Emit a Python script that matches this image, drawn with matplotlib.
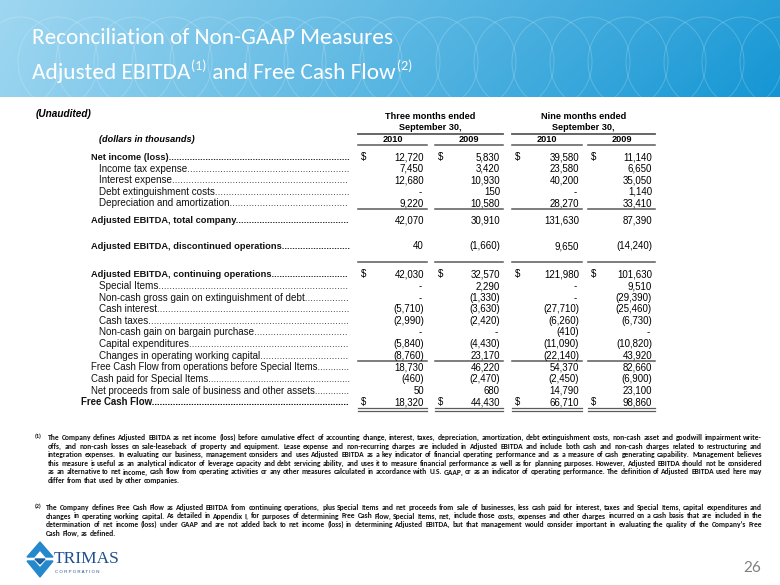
import matplotlib
matplotlib.use("Agg")
import matplotlib.pyplot as plt
import numpy as np
from matplotlib import font_manager as fm
from matplotlib.font_manager import FontProperties
from matplotlib.patches import Ellipse, Polygon
from matplotlib.transforms import Bbox

# ---------------- data ----------------
title_line1 = "Reconciliation of Non-GAAP Measures"
title_line2 = ["Adjusted EBITDA", "(1)", " and Free Cash Flow", "(2)"]

unaudited = "(Unaudited)"
units_label = "(dollars in thousands)"
group_headers = [("Three months ended", "September 30,"), ("Nine months ended", "September 30,")]
year_labels = ["2010", "2009", "2010", "2009"]

row_labels = [
    "Net income (loss)",
    "Income tax expense",
    "Interest expense",
    "Debt extinguishment costs",
    "Depreciation and amortization",
    "Adjusted EBITDA, total company",
    "Adjusted EBITDA, discontinued operations",
    "Adjusted EBITDA, continuing operations",
    "Special Items",
    "Non-cash gross gain on extinguishment of debt",
    "Cash interest",
    "Cash taxes",
    "Non-cash gain on bargain purchase",
    "Capital expenditures",
    "Changes in operating working capital",
    "Free Cash Flow from operations before Special Items",
    "Cash paid for Special Items",
    "Net proceeds from sale of business and other assets",
    "Free Cash Flow",
]
q3_2010 = [12720, 7450, 12680, None, 9220, 42070, 40, 42030, None, None,
           -5710, -2990, None, -5840, -8760, 18730, -460, 50, 18320]
q3_2009 = [5830, 3420, 10930, 150, 10580, 30910, -1660, 32570, 2290, -1330,
           -3630, -2420, None, -4430, 23170, 46220, -2470, 680, 44430]
ytd_2010 = [39580, 23580, 40200, None, 28270, 131630, 9650, 121980, None, None,
            -27710, -6260, -410, -11090, -22140, 54370, -2450, 14790, 66710]
ytd_2009 = [11140, 6650, 35050, 1140, 33410, 87390, -14240, 101630, 9510, -29390,
            -25460, -6730, None, -10820, 43920, 82660, -6900, 23100, 98860]
columns = [q3_2010, q3_2009, ytd_2010, ytd_2009]

row_kind = ["bold", "ind", "ind", "ind", "ind", "bold", "bold", "bold", "ind", "ind",
            "ind", "ind", "ind", "ind", "ind", "fcf", "fcf", "fcf", "total"]
dollar_rows = [0, 7, 18]

footnote1 = [
    "The Company defines Adjusted EBITDA as net income (loss) before cumulative effect of accounting change, interest, taxes, depreciation, amortization, debt extinguishment costs, non-cash asset and goodwill impairment write-",
    "offs, and non-cash losses on sale-leaseback of property and equipment.  Lease expense and non-recurring charges are included in Adjusted EBITDA and include both cash and non-cash charges related to restructuring and",
    "integration expenses. In evaluating our business, management considers and uses Adjusted EBITDA as a key indicator of financial operating performance and as a measure of cash generating capability.  Management believes",
    "this measure is useful as an analytical indicator of leverage capacity and debt servicing ability, and uses it to measure financial performance as well as for planning purposes. However, Adjusted EBITDA should not be considered",
    "as an alternative to net income, cash flow from operating activities or any other measures calculated in accordance with U.S. GAAP, or as an indicator of operating performance. The definition of Adjusted EBITDA used here may",
    "differ from that used by other companies.",
]
footnote2 = [
    "The Company defines Free Cash Flow as Adjusted EBITDA from continuing operations, plus Special Items and net proceeds from sale of businesses, less cash paid for interest, taxes and Special Items, capital expenditures and",
    "changes in operating working capital. As detailed in Appendix I, for purposes of determining Free Cash Flow, Special Items, net, include those costs, expenses and other charges incurred on a cash basis that are included in the",
    "determination of net income (loss) under GAAP and are not added back to net income (loss) in determining Adjusted EBITDA, but that management would consider important in evaluating the quality of the Company\u2019s Free",
    "Cash Flow, as defined.",
]
page_number = "26"

# ---------------- layout ----------------
W, H = 780, 585
fig = plt.figure(figsize=(7.8, 5.85), dpi=100)
ax = fig.add_axes([0, 0, 1, 1])
ax.set_xlim(0, W)
ax.set_ylim(H, 0)
ax.axis("off")
renderer = fig.canvas.get_renderer()

ttf = fm.fontManager.ttflist
names = {f.name for f in ttf}
def first_font(cands):
    for c in cands:
        if c in names:
            return c
    return None
narrow = first_font(["Carlito", "Liberation Sans Narrow", "Roboto Condensed", "Open Sans Condensed"])

def tw(s, fp):
    w, h, d = renderer.get_text_width_height_descent(s, fp, ismath=False)
    return w

# header band
band_h = 97
gx = np.linspace(0, 1, 300)
gy = np.linspace(0, 1, 40)[:, None]
c_left = np.array([150, 211, 239]) / 255
c_right = np.array([20, 150, 212]) / 255
img = c_left[None, None, :] * (1 - gx[None, :, None]) + c_right[None, None, :] * gx[None, :, None]
img = img * (1 - 0.08 * (1 - gy[:, :, None])) + 0.08 * (1 - gy[:, :, None])
ax.imshow(np.clip(img, 0, 1), extent=[0, W, band_h, 0], aspect="auto", zorder=0)
clipbox = ax.transData.transform_bbox(Bbox([[0, 0], [W, band_h]]))
for cx in np.arange(20, 800, 38):
    e = Ellipse((cx, 62), 80, 90, fill=False, ec="white", lw=0.7, alpha=0.2, zorder=1)
    ax.add_patch(e)
    e.set_clip_box(clipbox)

# title: size chosen so the first line spans the reference width
tfam = narrow if narrow else "Lato"
tfp = FontProperties(family=tfam, size=16)
tsize = min(20.5, 16 * 362 / tw(title_line1, tfp))
tfp.set_size(tsize)
tfp_sup = FontProperties(family=tfam, size=tsize * 0.6)
ax.text(32, 44, title_line1, fontproperties=tfp, color="white", va="baseline", zorder=3)
x = 32
for i, part in enumerate(title_line2):
    if i % 2 == 0:
        ax.text(x, 79, part, fontproperties=tfp, color="white", va="baseline", zorder=3)
        x += tw(part, tfp)
    else:
        ax.text(x + 1, 70, part, fontproperties=tfp_sup, color="white", va="baseline", zorder=3)
        x += tw(part, tfp_sup) + 1

# table
fam = "Liberation Sans"
fp_reg = FontProperties(family=fam, size=7.1)
fp_num = FontProperties(family=fam, size=7.0)
fp_bold = FontProperties(family=fam, size=6.7, weight="bold")
fp_hdr = FontProperties(family=fam, size=6.6, weight="bold")
fp_fcf = FontProperties(family=fam, size=6.9)
fp_fcfb = FontProperties(family=fam, size=6.9, weight="bold")
fp_bi = FontProperties(family=fam, size=6.6, weight="bold", style="italic")

ax.text(36, 117, unaudited, fontproperties=FontProperties(family=fam, size=7.2, weight="bold", style="italic"),
        va="baseline", ha="left")
ax.text(99, 142, units_label, fontproperties=fp_bi, va="baseline", ha="left")

col_left = [358, 435, 512, 588]
col_right = [427, 503, 582, 655]
groups = [(0, 1), (2, 3)]
line_col = "#5a5a5a"
for (a, b), (h1, h2) in zip(groups, group_headers):
    cx = (col_left[a] + col_right[b]) / 2
    ax.text(cx, 119, h1, fontproperties=fp_hdr, ha="center", va="baseline")
    ax.text(cx, 130, h2, fontproperties=fp_hdr, ha="center", va="baseline")
    ax.plot([col_left[a], col_right[b]], [133.5, 133.5], color=line_col, lw=1.3)
for j, yl in enumerate(year_labels):
    ax.text((col_left[j] + col_right[j]) / 2, 142, yl, fontproperties=fp_hdr, ha="center", va="baseline")
    for yy in (145, 209, 262, 361):
        ax.plot([col_left[j], col_right[j]], [yy, yy], color=line_col, lw=1.1)
    for yy in (408, 410.5):
        ax.plot([col_left[j], col_right[j]], [yy, yy], color=line_col, lw=0.9)

row_y = [157, 168.5, 180, 191.5, 203, 220, 246, 274, 286, 297.5, 309, 320.5,
         332, 344, 355.5, 367, 379, 390.5, 402]
label_x = {"bold": 91, "ind": 99, "fcf": 91, "total": 81}
label_fp = {"bold": fp_bold, "ind": fp_reg, "fcf": fp_fcf, "total": fp_fcfb}
dots_end = 351
bl = 3.4  # baseline offset from row centre
for i, lab in enumerate(row_labels):
    kind = row_kind[i]
    fpl = label_fp[kind]
    x0 = label_x[kind]
    y = row_y[i] + bl
    wl = tw(lab, fpl)
    dw = tw(".", fpl)
    n = max(0, int((dots_end - (x0 + wl + 1)) / dw))
    ax.text(x0, y, lab + "." * n, fontproperties=fpl, va="baseline", ha="left", color="#111111")
    fpn = fp_fcf if kind in ("fcf", "total") else fp_num
    for j, col in enumerate(columns):
        v = col[i]
        xr = col_right[j] - 3
        if v is None:
            ax.text(xr - 2, y, "-", fontproperties=fpn, ha="right", va="baseline")
        else:
            s = f"{abs(v):,}"
            if v < 0:
                s = f"({s})"
            ax.text(xr, y, s, fontproperties=fpn, ha="right", va="baseline")
        if i in dollar_rows:
            ax.text(col_left[j] + 3, y, "$", fontproperties=fpn, ha="left", va="baseline")

# footnotes: size chosen so the longest line just fits the text block
ffam = narrow if narrow else "Roboto"
ffp = FontProperties(family=ffam, size=5.0, weight="bold")
full_lines = footnote1[:-1] + footnote2[:-1]
max_w = max(tw(l, ffp) for l in full_lines)
ffp.set_size(min(6.2, 5.0 * 708 / max_w))
ffp_sup = ffp.copy()
ffp_sup.set_size(ffp.get_size() * 0.8)
fcol = "#111111"

def justified(lines, x0, x1, y0, dy):
    sp = tw("a a", ffp) - tw("aa", ffp)
    for k, line in enumerate(lines):
        y = y0 + k * dy
        words = line.split()
        widths = [tw(w, ffp) for w in words]
        if k == len(lines) - 1 or len(words) < 2:
            gap = sp
        else:
            gap = (x1 - x0 - sum(widths)) / (len(words) - 1)
        x = x0
        for w, wd in zip(words, widths):
            ax.text(x, y, w, fontproperties=ffp, va="baseline", ha="left", color=fcol)
            x += wd + gap

ax.text(35, 438, "(1)", fontproperties=ffp_sup, va="baseline", ha="left", color=fcol)
justified(footnote1, 48, 762, 440, 8.6)
ax.text(35, 508, "(2)", fontproperties=ffp_sup, va="baseline", ha="left", color=fcol)
justified(footnote2, 46, 762, 510, 8.5)

# logo
logo_blue = "#2388cc"
ax.add_patch(Polygon([[27, 557], [40, 542], [53, 557], [46, 557], [40, 550], [34, 557]], closed=True,
                     color=logo_blue, zorder=3))
ax.add_patch(Polygon([[27, 561], [34, 561], [40, 568], [46, 561], [53, 561], [40, 577]], closed=True,
                     color=logo_blue, zorder=3))
ax.add_patch(Polygon([[35, 559], [45, 559], [40, 564]], closed=True, color="#1a5fa0", zorder=3))
ax.text(54, 563, "TRIMAS", fontproperties=FontProperties(family="Liberation Serif", size=12.5),
        color="#1f4f8f", va="baseline", ha="left")
ax.text(55, 573, "C O R P O R A T I O N", fontproperties=FontProperties(family="Liberation Sans", size=3.2),
        color="#1f4f8f", va="baseline", ha="left")

ax.text(761, 572, page_number, fontproperties=FontProperties(family="Lato", size=11), color="#7f7f7f",
        ha="right", va="baseline")

fig.savefig("out.png", dpi=100)
